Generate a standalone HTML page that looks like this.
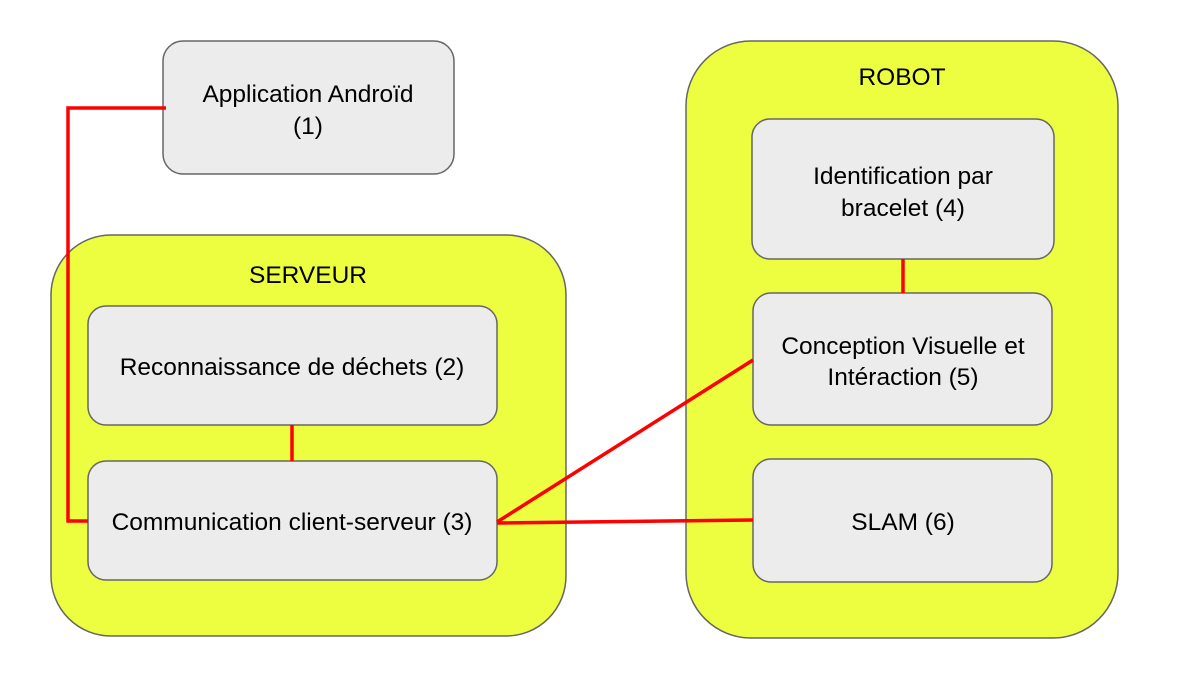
<!DOCTYPE html>
<html><head><meta charset="utf-8"><style>
body{margin:0;background:#fff;}
svg text{font-family:"Liberation Sans",sans-serif;font-size:24.5px;fill:#000;text-anchor:middle;}
</style></head><body>
<svg width="1192" height="678" viewBox="0 0 1192 678" xmlns="http://www.w3.org/2000/svg">
<g stroke="#666" stroke-width="1.5">
<rect x="51" y="235" width="515" height="401" rx="60" fill="#edfd3f"/>
<rect x="686" y="41" width="432" height="597" rx="65" fill="#edfd3f"/>
<rect x="163" y="41" width="291" height="133" rx="20" fill="#ececec"/>
<rect x="88" y="306" width="409" height="119" rx="18" fill="#ececec"/>
<rect x="88" y="461" width="409" height="119" rx="18" fill="#ececec"/>
<rect x="752" y="119" width="302" height="140" rx="18" fill="#ececec"/>
<rect x="753" y="293" width="299" height="132" rx="18" fill="#ececec"/>
<rect x="753" y="459" width="299" height="123" rx="18" fill="#ececec"/>
</g>
<g stroke="#ff0000" stroke-width="3.5" fill="none">
<polyline points="166,108 68,108 68,521 88,521"/>
<line x1="292" y1="425" x2="292" y2="461"/>
<line x1="903" y1="259" x2="903" y2="293"/>
<line x1="497" y1="522" x2="753" y2="360"/>
<line x1="497" y1="523" x2="753" y2="520"/>
</g>
<text x="308" y="102">Application Androïd</text>
<text x="308" y="134">(1)</text>
<text x="308" y="283">SERVEUR</text>
<text x="292" y="375">Reconnaissance de déchets (2)</text>
<text x="292" y="530">Communication client-serveur (3)</text>
<text x="902" y="85">ROBOT</text>
<text x="903" y="184">Identification par</text>
<text x="903" y="216">bracelet (4)</text>
<text x="903" y="354">Conception Visuelle et</text>
<text x="903" y="385">Intéraction (5)</text>
<text x="903" y="530">SLAM (6)</text>
</svg>
</body></html>
